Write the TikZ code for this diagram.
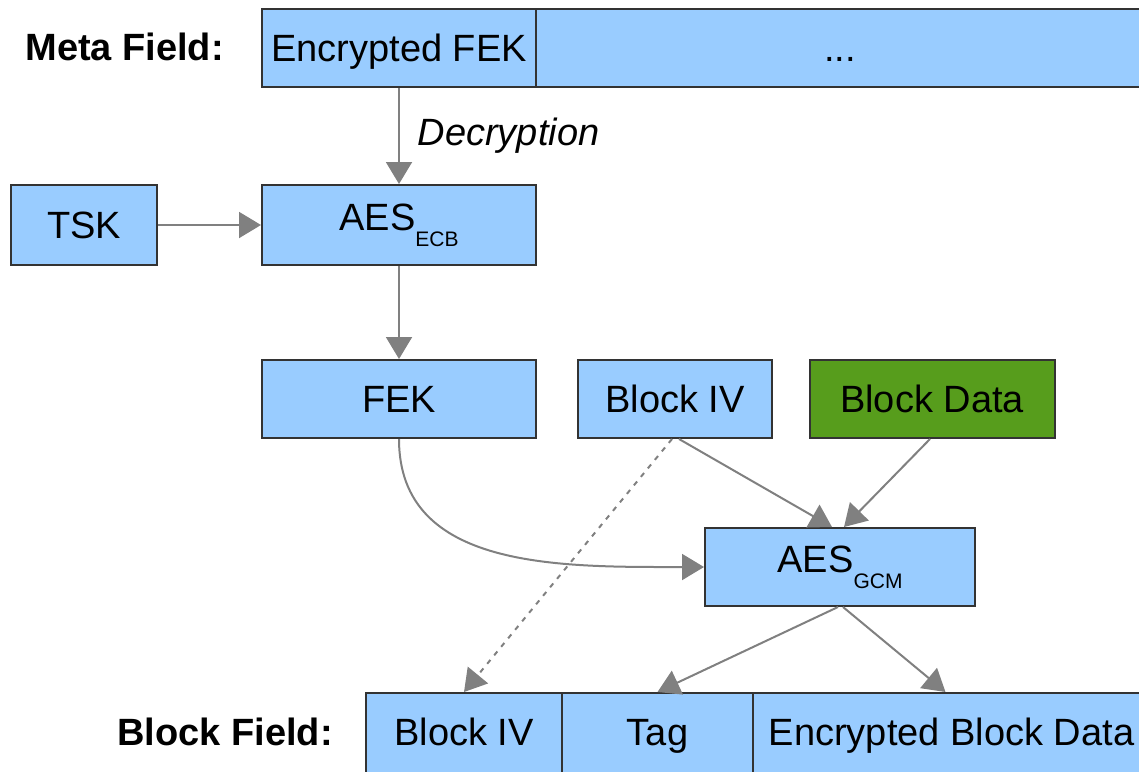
\documentclass[tikz,border=0pt]{standalone}
\usepackage{fontspec}
\setmainfont{Liberation Sans}
\usetikzlibrary{arrows.meta,calc}
\definecolor{boxblue}{HTML}{99CCFF}
\definecolor{boxline}{HTML}{333333}
\definecolor{datagreen}{HTML}{579D1C}
\definecolor{arrowgray}{HTML}{808080}
\newcommand{\aessub}[1]{AES\raisebox{-8pt}{\fontsize{10.5}{12}\selectfont #1}}
\tikzset{
  field/.style={draw=boxline,fill=boxblue,line width=1pt,inner sep=0pt,
    minimum height=39pt,text height=13.6pt,text depth=0pt},
  cellfield/.style={field,minimum height=45pt,text depth=6pt},
  cipher/.style={draw=boxline,fill=boxblue,line width=1pt,inner sep=0pt,
    minimum height=40pt},
  rowlabel/.style={anchor=west,inner sep=0pt,font=\fontsize{19}{22}\selectfont\bfseries},
  flow/.style={draw=arrowgray,line width=1pt,-{Triangle[length=11pt,width=13pt]}}
}
\begin{document}
\begin{tikzpicture}[x=0.5pt,y=-0.5pt,every node/.style={font=\fontsize{19}{22}\selectfont}]
   \useasboundingbox (0,0) rectangle (1139,771);
   % meta field
   \node [rowlabel] (metalbl) at (25,47) {Meta Field:};
   \node [field,minimum width=137pt] (encfek) at (399,48) {Encrypted FEK};
   \node [field,minimum width=304pt] (metarest) at (840,48) {...};
   % key decryption
   \node [cipher,minimum width=73pt] (tsk) at (84,225) {TSK};
   \node [cipher,minimum width=137pt] (aesecb) at (399,225) {\aessub{ECB}};
   \draw [flow] (encfek) -- (aesecb) node[midway,right=5.5pt,font=\fontsize{19}{22}\selectfont\itshape] {Decryption};
   \draw [flow] (tsk) -- (aesecb);
   % block decryption inputs
   \node [field,minimum width=137pt] (fek) at (399,399) {FEK};
   \node [field,minimum width=97pt] (blockiv) at (675,399) {Block IV};
   \node [field,minimum width=122.5pt,fill=datagreen] (blockdata) at (932,399) {Block Data};
   \draw [flow] (aesecb) -- (fek);
   \node [cipher,minimum width=135pt,minimum height=39pt] (aesgcm) at (840,567) {\aessub{GCM}};
   \draw [flow] (fek.south) .. controls (399,570) and (560,567) .. (aesgcm.west);
   \draw [flow] ($(blockiv.south)+(4,0)$) -- ($(aesgcm.north)+(-8,0)$);
   \draw [flow] ($(blockdata.south)+(-2,0)$) -- ($(aesgcm.north)+(4,0)$);
   % block field
   \node [rowlabel] (blocklbl) at (117,732) {Block Field:};
   \node [cellfield,minimum width=98pt] (fieldiv) at (464,738) {Block IV};
   \node [cellfield,minimum width=95.5pt] (tag) at (657.5,738) {Tag};
   \node [cellfield,minimum width=198.5pt] (encdata) at (951.5,738) {Encrypted Block Data};
   \draw [flow,dash pattern=on 2.5pt off 3pt] ($(blockiv.south)+(-3,0)$) -- (fieldiv.north);
   \draw [flow] ($(aesgcm.south)+(-2,0)$) -- (tag.north);
   \draw [flow] ($(aesgcm.south)+(3,0)$) -- ($(encdata.north)+(-6,0)$);
\end{tikzpicture}
\end{document}
